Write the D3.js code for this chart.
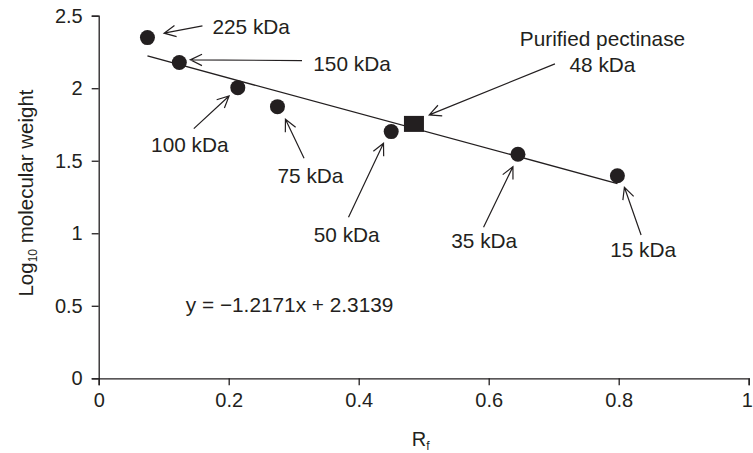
<!DOCTYPE html>
<html>
<head>
<meta charset="utf-8">
<script src="https://cdn.jsdelivr.net/npm/d3@7/dist/d3.min.js"></script>
<style>
  body { margin: 0; background: #fff; }
  text { font-family: "Liberation Sans", Arial, sans-serif; fill: #231f20; }
</style>
</head>
<body>
<div id="chart"></div>
<script>
// data
var markers   = [ '225 kDa', '150 kDa', '100 kDa', '75 kDa', '50 kDa', '35 kDa', '15 kDa' ];
var rfValues  = [ 0.075, 0.124, 0.214, 0.275, 0.450, 0.645, 0.798 ];
var logValues = [ 2.349, 2.177, 2.004, 1.873, 1.701, 1.545, 1.397 ];

var sampleName = [ 'Purified pectinase', '48 kDa' ];
var sampleRf   = 0.485;
var sampleLog  = 1.754;

var slope     = -1.2171;
var intercept = 2.3139;

var xTicks = [ 0, 0.2, 0.4, 0.6, 0.8, 1 ];
var yTicks = [ 0, 0.5, 1, 1.5, 2, 2.5 ];

// namespace
var mw = {};

var labelSize = '20.8px';

// callout layout ( pixel offsets from the point: tip, tail, text )
mw.callouts = [
    { tip: [ 16.6, -4.4 ], tail: [ 55, -11.7 ],  text: [ 65, -10.7 ],  anchor: 'start' },
    { tip: [ 11, -2.7 ],   tail: [ 122.7, -2 ],  text: [ 134, 1.3 ],   anchor: 'start' },
    { tip: [ -8.7, 8.3 ],  tail: [ -44, 41 ],    text: [ -48, 57.3 ],  anchor: 'middle' },
    { tip: [ 8, 12.6 ],    tail: [ 26.6, 51.6 ], text: [ 33, 69.3 ],   anchor: 'middle' },
    { tip: [ -7.7, 11.6 ], tail: [ -42.7, 85.6 ],text: [ -44.5, 103.3 ], anchor: 'middle' },
    { tip: [ -5, 12.4 ],   tail: [ -34.4, 73 ],  text: [ -33.7, 86.4 ],anchor: 'middle' },
    { tip: [ 7, 11.6 ],    tail: [ 23.7, 59.3 ], text: [ 25.7, 74.3 ], anchor: 'middle' }
];
mw.sampleCallout = { tip: [ 15.3, -9 ], tail: [ 141, -60 ], text: [ 188.5, -85 ], lineGap: 26 };

// render
mw.render = function( root ) {
    var width = 753;
    var height = 453;
    var margin = { left: 98.7, top: 15.7, right: 4.3, bottom: 74.7 };

    var svg = d3.select( root )
                .append( 'svg' )
                .attr( 'width', width )
                .attr( 'height', height );

    var x = d3.scaleLinear()
              .domain( [ 0, 1 ] )
              .range( [ margin.left, width - margin.right ] );
    var y = d3.scaleLinear()
              .domain( [ 0, 2.5 ] )
              .range( [ height - margin.bottom, margin.top ] );

    mw.drawAxes( svg, x, y, width, height, margin );
    mw.drawTrend( svg, x, y );
    mw.drawPoints( svg, x, y );
    mw.drawCallouts( svg, x, y );
}

// axes
mw.drawAxes = function( svg, x, y, width, height, margin ) {
    var xAxis = svg.append( 'g' )
                   .attr( 'transform', 'translate(0,' + y( 0 ) + ')' )
                   .call( d3.axisBottom( x ).tickValues( xTicks ).tickSize( 7 ).tickPadding( 8 ).tickFormat( d3.format( '' ) ) );
    var yAxis = svg.append( 'g' )
                   .attr( 'transform', 'translate(' + x( 0 ) + ',0)' )
                   .call( d3.axisLeft( y ).tickValues( yTicks ).tickSize( 7 ).tickPadding( 9 ).tickFormat( d3.format( '' ) ) );

    [ xAxis, yAxis ].forEach( function( axis ) {
        axis.select( '.domain' ).attr( 'stroke', '#231f20' ).attr( 'stroke-width', 1.3 );
        axis.selectAll( '.tick line' ).attr( 'stroke', '#231f20' ).attr( 'stroke-width', 1.3 );
        axis.selectAll( '.tick text' )
            .style( 'font-family', '"Liberation Sans", Arial, sans-serif' )
            .style( 'font-size', '20px' )
            .attr( 'fill', '#231f20' );
    });

    // last x label sits on the edge
    xAxis.selectAll( '.tick text' )
         .filter( function( d ) { return d === 1; } )
         .attr( 'dx', -2 );

    // x title
    var xt = svg.append( 'text' )
                .attr( 'x', ( x( 0 ) + x( 1 ) ) / 2 - 3 )
                .attr( 'y', 446 )
                .attr( 'text-anchor', 'middle' )
                .style( 'font-size', '20px' );
    xt.append( 'tspan' ).text( 'R' );
    xt.append( 'tspan' ).attr( 'dy', 4 ).style( 'font-size', '12px' ).text( 'f' );

    // y title
    var yt = svg.append( 'text' )
                .attr( 'transform', 'translate(33,' + ( ( y( 0 ) + y( 2.5 ) ) / 2 - 4 ) + ') rotate(-90)' )
                .attr( 'text-anchor', 'middle' )
                .style( 'font-size', '20.5px' );
    yt.append( 'tspan' ).text( 'Log' );
    yt.append( 'tspan' ).attr( 'dy', 4 ).style( 'font-size', '12px' ).text( '10' );
    yt.append( 'tspan' ).attr( 'dy', -4 ).text( ' molecular weight' );
}

// trend line
mw.drawTrend = function( svg, x, y ) {
    var ext = d3.extent( rfValues );
    var line = d3.line()
                 .x( function( d ) { return x( d ); } )
                 .y( function( d ) { return y( slope * d + intercept ); } );

    svg.append( 'path' )
       .attr( 'd', line( ext ) )
       .attr( 'fill', 'none' )
       .attr( 'stroke', '#231f20' )
       .attr( 'stroke-width', 1.4 );

    svg.append( 'text' )
       .attr( 'x', x( 0.134 ) )
       .attr( 'y', y( 0.505 ) + 7 )
       .style( 'font-size', labelSize )
       .text( 'y = \u22121.2171x + 2.3139' );
}

// points
mw.drawPoints = function( svg, x, y ) {
    svg.selectAll( 'circle.marker' )
       .data( rfValues )
       .enter()
       .append( 'circle' )
       .attr( 'class', 'marker' )
       .attr( 'cx', function( d ) { return x( d ); } )
       .attr( 'cy', function( d, i ) { return y( logValues[ i ] ); } )
       .attr( 'r', 7.5 )
       .attr( 'fill', '#231f20' );

    svg.append( 'rect' )
       .attr( 'x', x( sampleRf ) - 10 )
       .attr( 'y', y( sampleLog ) - 8 )
       .attr( 'width', 20 )
       .attr( 'height', 16 )
       .attr( 'fill', '#231f20' );
}

// arrow
mw.drawArrow = function( svg, tip, tail ) {
    var angle = Math.atan2( tail[ 1 ] - tip[ 1 ], tail[ 0 ] - tip[ 0 ] );
    var len = 13;
    var spread = 26 * Math.PI / 180;
    var a1 = [ tip[ 0 ] + len * Math.cos( angle - spread ), tip[ 1 ] + len * Math.sin( angle - spread ) ];
    var a2 = [ tip[ 0 ] + len * Math.cos( angle + spread ), tip[ 1 ] + len * Math.sin( angle + spread ) ];

    var path = d3.path();
    path.moveTo( tail[ 0 ], tail[ 1 ] );
    path.lineTo( tip[ 0 ], tip[ 1 ] );
    path.moveTo( a1[ 0 ], a1[ 1 ] );
    path.lineTo( tip[ 0 ], tip[ 1 ] );
    path.lineTo( a2[ 0 ], a2[ 1 ] );

    svg.append( 'path' )
       .attr( 'd', path.toString() )
       .attr( 'fill', 'none' )
       .attr( 'stroke', '#231f20' )
       .attr( 'stroke-width', 1.2 );
}

// callouts
mw.drawCallouts = function( svg, x, y ) {
    markers.forEach( function( label, i ) {
        var px = x( rfValues[ i ] );
        var py = y( logValues[ i ] );
        var c = mw.callouts[ i ];
        mw.drawArrow( svg, [ px + c.tip[ 0 ], py + c.tip[ 1 ] ], [ px + c.tail[ 0 ], py + c.tail[ 1 ] ] );
        svg.append( 'text' )
           .attr( 'x', px + c.text[ 0 ] )
           .attr( 'y', py + c.text[ 1 ] )
           .attr( 'text-anchor', c.anchor )
           .attr( 'dominant-baseline', 'central' )
           .style( 'font-size', labelSize )
           .text( label );
    });

    var sx = x( sampleRf );
    var sy = y( sampleLog );
    var s = mw.sampleCallout;
    mw.drawArrow( svg, [ sx + s.tip[ 0 ], sy + s.tip[ 1 ] ], [ sx + s.tail[ 0 ], sy + s.tail[ 1 ] ] );
    sampleName.forEach( function( line, i ) {
        svg.append( 'text' )
           .attr( 'x', sx + s.text[ 0 ] )
           .attr( 'y', sy + s.text[ 1 ] + i * s.lineGap )
           .attr( 'text-anchor', 'middle' )
           .attr( 'dominant-baseline', 'central' )
           .style( 'font-size', labelSize )
           .text( line );
    });
}

mw.render( '#chart' );
</script>
</body>
</html>
